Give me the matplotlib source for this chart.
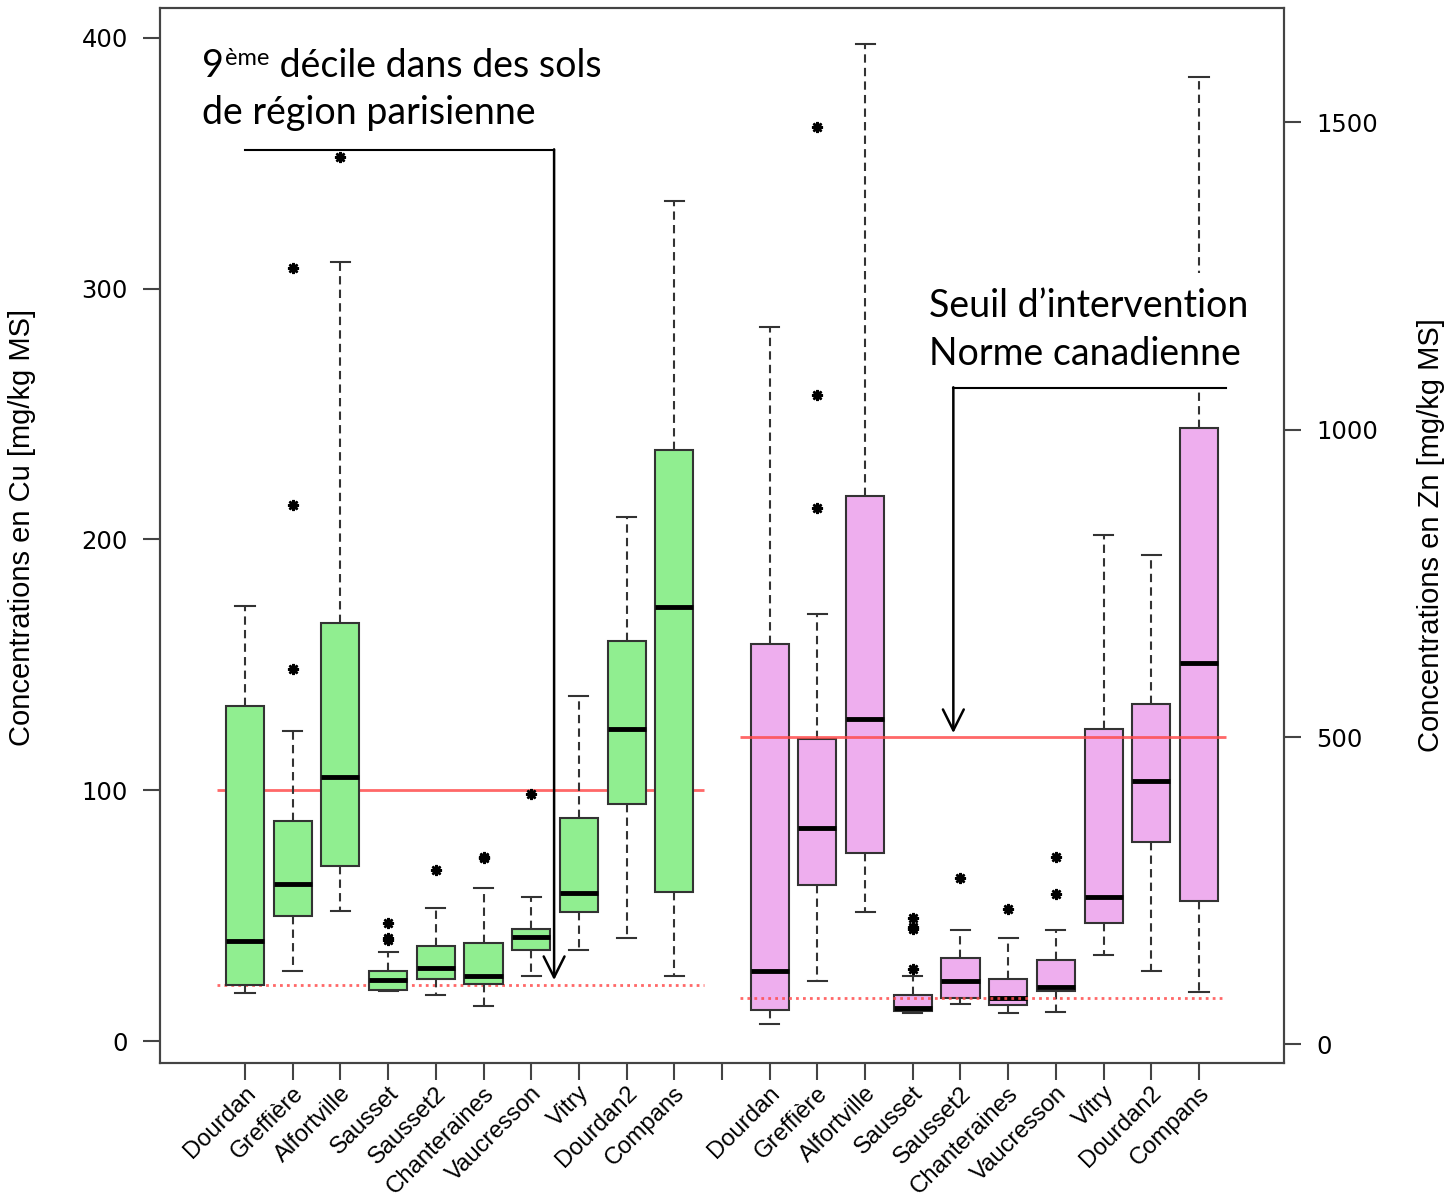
import matplotlib.pyplot as plt
from matplotlib.transforms import ScaledTranslation

sites = ['Dourdan', 'Greffière', 'Alfortville', 'Sausset', 'Sausset2',
         'Chanteraines', 'Vaucresson', 'Vitry', 'Dourdan2', 'Compans']

# Cu [mg/kg MS] box stats
cu_whislo = [19.1, 27.9, 51.8, 19.9, 18.3, 14.0, 25.9, 36.3, 41.1, 25.9]
cu_q1 = [22.3, 49.9, 69.8, 20.3, 24.7, 22.7, 36.3, 51.4, 94.5, 59.4]
cu_med = [39.9, 62.6, 105.3, 24.3, 29.1, 25.9, 41.5, 59.0, 124.4, 173.1]
cu_q3 = [133.6, 87.7, 166.7, 27.9, 37.9, 39.1, 44.7, 88.9, 159.5, 235.7]
cu_whishi = [173.5, 123.6, 310.7, 35.5, 53.0, 61.0, 57.4, 137.6, 209.0, 335.0]
cu_fliers = [[], [308.3, 213.8, 148.4], [352.5], [47.1, 41.1, 40.3], [68.2],
             [73.4, 72.8], [98.5], [], [], []]

# Zn [mg/kg MS]
zn_whislo = [33.4, 103.3, 215.5, 51.2, 65.9, 51.2, 52.9, 145.6, 119.6, 85.4]
zn_q1 = [56.1, 259.5, 311.5, 54.5, 75.6, 64.2, 87.0, 197.7, 329.4, 233.5]
zn_med = [119.6, 352.0, 529.5, 59.4, 103.3, 75.6, 93.5, 240.0, 428.7, 620.6]
zn_q3 = [651.6, 497.0, 892.4, 80.5, 140.7, 106.6, 137.5, 513.3, 554.0, 1003.0]
zn_whishi = [1167.2, 700.3, 1627.6, 111.4, 186.3, 173.3, 186.3, 829.3, 796.7, 1574.0]
zn_fliers = [[], [1492.6, 1056.6, 872.9], [], [205.8, 191.2, 188.0, 122.8], [270.9],
             [220.4], [305.1, 244.8], [], [], []]

cu_seuil, cu_decile = 100, 22.3
zn_seuil, zn_decile = 500, 76

cu_pos = list(range(1, 11))
zn_pos = list(range(12, 22))

GREEN = '#90EE90'
PINK = '#EEAEEE'
EDGE = '#333333'
RED = '#FF4D4D'


def make_stats(lo, q1, med, q3, hi, fl):
    return [dict(whislo=a, q1=b, med=c, q3=d, whishi=e, fliers=f)
            for a, b, c, d, e, f in zip(lo, q1, med, q3, hi, fl)]


def draw_boxes(ax, stats, pos, color):
    ax.bxp(stats, positions=pos, widths=0.8, capwidths=0.4, patch_artist=True,
           showfliers=True, manage_ticks=False,
           boxprops=dict(facecolor=color, edgecolor=EDGE, linewidth=1.5),
           medianprops=dict(color='black', linewidth=3.5, solid_capstyle='butt'),
           whiskerprops=dict(color=EDGE, linewidth=1.5, linestyle=(0, (4, 2.5))),
           capprops=dict(color=EDGE, linewidth=1.5),
           flierprops=dict(marker=(8, 2, 0), markersize=8, markeredgewidth=1.8,
                           markeredgecolor='black', linestyle='none'))


fig = plt.figure(figsize=(14.48, 11.99), dpi=100)
ax = fig.add_axes([160 / 1448, 1 - 1063 / 1199, 1124 / 1448, 1055 / 1199])
ax2 = ax.twinx()
ax.set_zorder(ax2.get_zorder() + 1)
ax.patch.set_visible(False)

draw_boxes(ax, make_stats(cu_whislo, cu_q1, cu_med, cu_q3, cu_whishi, cu_fliers), cu_pos, GREEN)
draw_boxes(ax2, make_stats(zn_whislo, zn_q1, zn_med, zn_q3, zn_whishi, zn_fliers), zn_pos, PINK)

ax.hlines(cu_seuil, 0.41, 10.62, color=RED, lw=2, alpha=0.85, zorder=1)
ax.hlines(cu_decile, 0.41, 10.62, color=RED, lw=2, alpha=0.85, linestyles=[(0, (1, 1.5))], zorder=1)
ax2.hlines(zn_seuil, 11.38, 21.57, color=RED, lw=2, alpha=0.85, zorder=3)
ax2.hlines(zn_decile, 11.38, 21.57, color=RED, lw=2, alpha=0.85, linestyles=[(0, (1, 1.5))], zorder=3)

ax.set_xlim(-0.782, 22.782)
ax.set_ylim(-8.77, 411.96)
ax2.set_ylim(-30.1, 1686.2)

ax.set_yticks([0, 100, 200, 300, 400])
ax2.set_yticks([0, 500, 1000, 1500])
ax.set_xticks(range(1, 22))
ax.set_xticklabels(sites + [''] + sites, rotation=45, ha='right', va='center',
                   rotation_mode='anchor', fontsize=17.2, family='Liberation Sans')

for a in (ax, ax2):
    for s in a.spines.values():
        s.set_color('#444444')
        s.set_linewidth(1.5)
    a.tick_params(axis='both', length=12, width=1.5, color='#444444', direction='out')
    for lbl in a.get_yticklabels():
        lbl.set_family('DejaVu Sans')
        lbl.set_fontsize(17.5)
ax.tick_params(axis='y', pad=11)
ax2.tick_params(axis='y', pad=11)
ax.tick_params(axis='x', pad=6)

# nudge the slanted site names to the right, as in the original
for lbl in ax.get_xticklabels():
    lbl.set_transform(lbl.get_transform() + ScaledTranslation(0.07, -0.02, fig.dpi_scale_trans))

narrow = ['Liberation Sans Narrow', 'Liberation Sans']
ax.set_ylabel('Concentrations en Cu [mg/kg MS]', family=narrow, fontsize=21)
ax.yaxis.set_label_coords(-0.110, 0.508)
ax2.set_ylabel('Concentrations en Zn [mg/kg MS]', family=narrow, fontsize=21)
ax2.yaxis.set_label_coords(1.118, 0.5)

# annotations
FONT = 'Lato'
FS = 27
t1 = ax.text(0.098, 384.4, '9', fontsize=FS, family=FONT, va='baseline')
t2 = ax.annotate('ème', xy=(1, 1), xycoords=t1, fontsize=17, family=FONT,
                 va='top', ha='left', xytext=(1, 0), textcoords='offset points')
ax.annotate(' décile dans des sols', xy=(1, 0), xycoords=(t2, t1), fontsize=FS,
            family=FONT, va='bottom', ha='left')
ax.text(0.098, 365.7, 'de région parisienne', fontsize=FS, family=FONT, va='baseline')

ax.plot([1.0, 7.48], [355.3, 355.3], color='black', lw=1.5)
ax.annotate('', xy=(7.48, 24.3), xytext=(7.48, 355.6),
            arrowprops=dict(arrowstyle='->,head_length=1.0,head_width=0.5',
                            mutation_scale=15, lw=1.8, color='black',
                            shrinkA=0, shrinkB=0))

for yy, txt in [(288.7, 'Seuil d’intervention'), (269.6, 'Norme canadienne')]:
    ax.text(15.33, yy, txt, fontsize=FS, family=FONT, va='baseline', zorder=6,
            bbox=dict(facecolor='white', edgecolor='none', pad=11))

ax.plot([15.85, 21.56], [260.4, 260.4], color='black', lw=1.5, zorder=7)
ax.annotate('', xy=(15.85, 122.8), xytext=(15.85, 260.7), zorder=7,
            arrowprops=dict(arrowstyle='->,head_length=1.0,head_width=0.5',
                            mutation_scale=15, lw=1.8, color='black',
                            shrinkA=0, shrinkB=0))

fig.savefig('out.png', dpi=100, facecolor='white')
